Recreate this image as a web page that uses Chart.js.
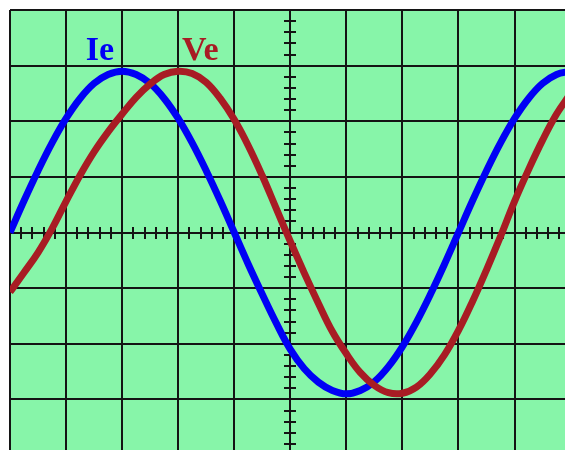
<!DOCTYPE html>
<html>
<head>
<meta charset="utf-8">
<title>Ie / Ve</title>
<script src="https://cdn.jsdelivr.net/npm/chart.js@4/dist/chart.umd.min.js"></script>
<style>
  html, body { margin: 0; padding: 0; background: #ffffff; }
  #wrap { width: 565px; height: 450px; position: relative; }
</style>
</head>
<body>
<div id="wrap"><canvas id="scope"></canvas></div>
<script>
// time axis, in screen divisions from the centre line (quarter-division steps)
var xs = [-5, -4.75, -4.5, -4.25, -4, -3.75, -3.5, -3.25, -3, -2.75,
          -2.5, -2.25, -2, -1.75, -1.5, -1.25, -1, -0.75, -0.5, -0.25,
          0, 0.25, 0.5, 0.75, 1, 1.25, 1.5, 1.75, 2, 2.25,
          2.5, 2.75, 3, 3.25, 3.5, 3.75, 4, 4.25, 4.5, 4.75, 5];
// current trace (divisions)
var ieVals = [0, 0.57, 1.11, 1.61, 2.05, 2.41, 2.68, 2.84, 2.9, 2.84,
              2.68, 2.41, 2.05, 1.61, 1.11, 0.57, 0, -0.57, -1.11, -1.63,
              -2.1, -2.45, -2.69, -2.84, -2.9, -2.84, -2.68, -2.41, -2.05, -1.61,
              -1.11, -0.57, 0, 0.57, 1.11, 1.61, 2.05, 2.41, 2.68, 2.84, 2.9];
// voltage trace (divisions)
var veVals = [-1.07, -0.72, -0.36, 0.07, 0.56, 1.03, 1.45, 1.81, 2.13, 2.43,
              2.67, 2.84, 2.9, 2.86, 2.7, 2.41, 2.03, 1.56, 1.02, 0.43,
              -0.16, -0.73, -1.27, -1.78, -2.18, -2.52, -2.75, -2.88, -2.89, -2.78,
              -2.54, -2.2, -1.76, -1.24, -0.67, -0.07, 0.56, 1.13, 1.66, 2.13, 2.5];

var traceNames = ['Ie', 'Ve'];
var traceColors = ['#0000f5', '#a81c24'];

var GRID = '#141414';
var SCREEN = '#87f5a9';

function toPoints(vals) {
    var pts = [];
    for (var i = 0; i < xs.length; i++) {
        pts.push({ x: xs[i], y: vals[i] });
    }
    return pts;
}

// green screen behind the graticule
var screenFill = {
    id: 'screenFill',
    beforeDraw: function(chart) {
        var a = chart.chartArea;
        var ctx = chart.ctx;
        ctx.save();
        ctx.fillStyle = SCREEN;
        ctx.fillRect(a.left, a.top, a.right - a.left, a.bottom - a.top);
        ctx.restore();
    }
};

// small subdivision marks along the two centre lines
var centreTicks = {
    id: 'centreTicks',
    beforeDatasetsDraw: function(chart) {
        var xScale = chart.scales.x;
        var yScale = chart.scales.y;
        var ctx = chart.ctx;
        var cx = Math.round(xScale.getPixelForValue(0));
        var cy = Math.round(yScale.getPixelForValue(0));
        var v, p;
        ctx.save();
        ctx.strokeStyle = GRID;
        ctx.lineWidth = 2;
        ctx.beginPath();
        for (v = -25; v <= 25; v++) {
            if (v % 5 === 0) continue;
            p = Math.round(xScale.getPixelForValue(v / 5));
            if (p > xScale.left && p < xScale.right) {
                ctx.moveTo(p, cy - 6);
                ctx.lineTo(p, cy + 6);
            }
            p = Math.round(yScale.getPixelForValue(v / 5));
            if (p > yScale.top && p < yScale.bottom) {
                ctx.moveTo(cx - 6, p);
                ctx.lineTo(cx + 6, p);
            }
        }
        ctx.stroke();
        ctx.restore();
    }
};

// trace names written above the first peaks
var traceLabels = {
    id: 'traceLabels',
    afterDatasetsDraw: function(chart) {
        var xScale = chart.scales.x;
        var yScale = chart.scales.y;
        var ctx = chart.ctx;
        var spots = [[-3.65, 3.1], [-1.93, 3.1]];
        ctx.save();
        ctx.font = 'bold 34px "Liberation Serif", "DejaVu Serif", serif';
        ctx.textAlign = 'left';
        ctx.textBaseline = 'alphabetic';
        for (var i = 0; i < traceNames.length; i++) {
            ctx.fillStyle = traceColors[i];
            ctx.fillText(traceNames[i], xScale.getPixelForValue(spots[i][0]), yScale.getPixelForValue(spots[i][1]));
        }
        ctx.restore();
    }
};

var ctx = document.getElementById('scope').getContext('2d');
var chart = new Chart(ctx, {
    type: 'line',
    data: {
        datasets: [{
            label: traceNames[0],
            data: toPoints(ieVals),
            borderColor: traceColors[0],
            borderWidth: 7,
            pointRadius: 0,
            tension: 0.4,
            fill: false,
            order: 1
        }, {
            label: traceNames[1],
            data: toPoints(veVals),
            borderColor: traceColors[1],
            borderWidth: 7,
            pointRadius: 0,
            tension: 0.4,
            fill: false,
            order: 0
        }]
    },
    options: {
        responsive: true,
        maintainAspectRatio: false,
        animation: false,
        layout: { padding: { left: 10, top: 10, right: 0, bottom: 0 } },
        plugins: {
            legend: { display: false },
            tooltip: { enabled: false }
        },
        scales: {
            x: {
                type: 'linear',
                min: -5,
                max: 4.9,
                border: { display: false },
                grid: { color: GRID, lineWidth: 2, drawTicks: false },
                ticks: { display: false, stepSize: 1, includeBounds: false }
            },
            y: {
                type: 'linear',
                min: -3.91,
                max: 4,
                border: { display: false },
                grid: { color: GRID, lineWidth: 2, drawTicks: false },
                ticks: { display: false, stepSize: 1, includeBounds: false }
            }
        }
    },
    plugins: [screenFill, centreTicks, traceLabels]
});
</script>
</body>
</html>
